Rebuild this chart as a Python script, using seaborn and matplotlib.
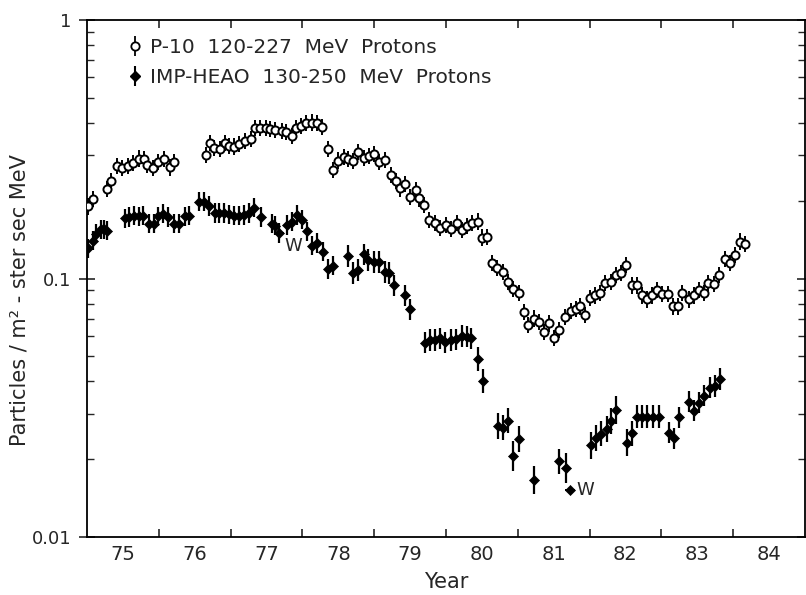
import numpy as np
import pandas as pd
import matplotlib
matplotlib.use("Agg")
import matplotlib.pyplot as plt
import seaborn as sns
from matplotlib.lines import Line2D
from matplotlib.legend_handler import HandlerTuple
from matplotlib.ticker import LogLocator, NullFormatter, FixedLocator, FixedFormatter

# ---------------- data ----------------
p10_year = [1975.01, 1975.09, 1975.28, 1975.34, 1975.42, 1975.49, 1975.57, 1975.64, 1975.72, 1975.79,
            1975.84, 1975.92, 1975.99, 1976.07, 1976.15, 1976.21,
            1976.66, 1976.71, 1976.77, 1976.85, 1976.92, 1976.98, 1977.05, 1977.12, 1977.20, 1977.28,
            1977.34, 1977.41, 1977.49, 1977.55, 1977.62, 1977.71, 1977.77, 1977.85, 1977.91, 1977.98,
            1978.05, 1978.13, 1978.21, 1978.27,
            1978.36, 1978.43, 1978.50, 1978.58, 1978.64, 1978.71, 1978.78, 1978.86, 1978.93, 1979.00,
            1979.07, 1979.15, 1979.23, 1979.30, 1979.36, 1979.43, 1979.50, 1979.58, 1979.63, 1979.70,
            1979.77, 1979.85, 1979.92, 1980.00, 1980.07, 1980.15, 1980.22, 1980.29, 1980.36, 1980.44,
            1980.50, 1980.57, 1980.64, 1980.71, 1980.80, 1980.86, 1980.93, 1981.01, 1981.08, 1981.14,
            1981.22, 1981.30, 1981.37, 1981.44, 1981.51, 1981.58, 1981.66, 1981.74, 1981.81, 1981.87,
            1981.93, 1982.01, 1982.08, 1982.15, 1982.22, 1982.30, 1982.37, 1982.44, 1982.51, 1982.59,
            1982.66, 1982.73, 1982.80, 1982.87, 1982.94, 1983.01, 1983.09, 1983.16, 1983.23, 1983.29,
            1983.38, 1983.46, 1983.52, 1983.59, 1983.65, 1983.73, 1983.80, 1983.88, 1983.95, 1984.02,
            1984.09, 1984.16]
p10_flux = [0.190, 0.203, 0.222, 0.239, 0.273, 0.267, 0.272, 0.279, 0.291, 0.289,
            0.276, 0.267, 0.282, 0.289, 0.269, 0.282,
            0.300, 0.335, 0.319, 0.317, 0.335, 0.326, 0.324, 0.331, 0.341, 0.346,
            0.383, 0.383, 0.383, 0.378, 0.375, 0.372, 0.370, 0.357, 0.383, 0.389,
            0.399, 0.401, 0.399, 0.385,
            0.316, 0.263, 0.286, 0.296, 0.289, 0.285, 0.309, 0.292, 0.298, 0.304,
            0.283, 0.287, 0.251, 0.238, 0.223, 0.232, 0.207, 0.219, 0.204, 0.193,
            0.168, 0.164, 0.157, 0.161, 0.155, 0.164, 0.154, 0.160, 0.164, 0.166,
            0.144, 0.145, 0.115, 0.110, 0.106, 0.097, 0.091, 0.088, 0.074, 0.066,
            0.070, 0.068, 0.062, 0.067, 0.059, 0.063, 0.071, 0.075, 0.076, 0.078,
            0.072, 0.084, 0.086, 0.088, 0.096, 0.097, 0.103, 0.105, 0.113, 0.094,
            0.094, 0.086, 0.083, 0.086, 0.090, 0.087, 0.087, 0.078, 0.078, 0.088,
            0.083, 0.086, 0.090, 0.088, 0.096, 0.095, 0.103, 0.119, 0.115, 0.123,
            0.139, 0.136]
p10_relerr = 0.075

imp_year = [1975.01, 1975.08, 1975.13, 1975.19, 1975.23, 1975.28,
            1975.53, 1975.59, 1975.66, 1975.73, 1975.78, 1975.86, 1975.93, 1975.99, 1976.06, 1976.13,
            1976.21, 1976.28, 1976.36, 1976.42,
            1976.56, 1976.63, 1976.70, 1976.78, 1976.84, 1976.91, 1976.98, 1977.05, 1977.12, 1977.19,
            1977.25, 1977.32,
            1977.43, 1977.57, 1977.62, 1977.68, 1977.78, 1977.85, 1977.92, 1977.99, 1978.06, 1978.13,
            1978.20, 1978.28, 1978.35, 1978.42,
            1978.64, 1978.71, 1978.78, 1978.86, 1978.92, 1979.00, 1979.07, 1979.15, 1979.21, 1979.28,
            1979.43, 1979.50,
            1979.71, 1979.78, 1979.85, 1979.92, 1979.99, 1980.07, 1980.14, 1980.22, 1980.29, 1980.35,
            1980.45, 1980.52,
            1980.73, 1980.80, 1980.86, 1980.93, 1981.01, 1981.22, 1981.58, 1981.67, 1981.73,
            1982.02, 1982.09, 1982.16, 1982.24, 1982.30, 1982.37, 1982.52, 1982.59, 1982.66, 1982.73,
            1982.80, 1982.88, 1982.96,
            1983.10, 1983.17, 1983.24, 1983.38, 1983.46, 1983.52, 1983.59, 1983.67, 1983.74, 1983.81]
imp_flux = [0.131, 0.140, 0.149, 0.155, 0.155, 0.153,
            0.171, 0.173, 0.175, 0.174, 0.175, 0.163, 0.163, 0.174, 0.178, 0.173,
            0.163, 0.163, 0.174, 0.175,
            0.198, 0.198, 0.191, 0.179, 0.179, 0.179, 0.177, 0.175, 0.175, 0.176,
            0.179, 0.188,
            0.173, 0.163, 0.160, 0.150, 0.161, 0.166, 0.176, 0.169, 0.152, 0.134,
            0.137, 0.127, 0.109, 0.112,
            0.122, 0.105, 0.108, 0.124, 0.118, 0.116, 0.116, 0.106, 0.105, 0.094,
            0.086, 0.076,
            0.0564, 0.0578, 0.0578, 0.0587, 0.0566, 0.0578, 0.0582, 0.0599, 0.0595, 0.0587,
            0.0488, 0.0401,
            0.0269, 0.0265, 0.0282, 0.0206, 0.0239, 0.0166, 0.0196, 0.0185, 0.0152,
            0.0226, 0.0242, 0.0251, 0.0262, 0.0281, 0.0310, 0.0232, 0.0252, 0.0292, 0.0292,
            0.0292, 0.0292, 0.0292,
            0.0253, 0.0241, 0.0290, 0.0334, 0.0308, 0.0331, 0.0352, 0.0378, 0.0384, 0.0409]
imp_relerr = [0.09, 0.09, 0.09, 0.09, 0.09, 0.09,
              0.09, 0.09, 0.09, 0.09, 0.09, 0.09, 0.09, 0.09, 0.09, 0.09,
              0.09, 0.09, 0.09, 0.09,
              0.09, 0.09, 0.09, 0.09, 0.09, 0.09, 0.09, 0.09, 0.09, 0.09,
              0.09, 0.09,
              0.09, 0.09, 0.09, 0.09, 0.09, 0.09, 0.09, 0.09, 0.09, 0.09,
              0.09, 0.09, 0.09, 0.09,
              0.10, 0.10, 0.10, 0.10, 0.10, 0.10, 0.10, 0.10, 0.10, 0.10,
              0.10, 0.10,
              0.10, 0.10, 0.10, 0.10, 0.10, 0.10, 0.10, 0.10, 0.10, 0.10,
              0.11, 0.11,
              0.12, 0.12, 0.12, 0.14, 0.12, 0.13, 0.12, 0.14, 0.03,
              0.13, 0.12, 0.12, 0.12, 0.12, 0.13, 0.13, 0.12, 0.11, 0.11,
              0.11, 0.11, 0.11,
              0.10, 0.10, 0.10, 0.10, 0.10, 0.10, 0.10, 0.10, 0.10, 0.10]

# points marked "W" (with a horizontal bar)
w_year = [1977.68, 1981.73]
w_flux = [0.150, 0.0152]
w_xerr = 0.07

year_ticks = [1976, 1977, 1978, 1979, 1980, 1981, 1982, 1983, 1984]
year_labels = ["75", "76", "77", "78", "79", "80", "81", "82", "83", "84"]
year_label_pos = [1975.5, 1976.5, 1977.5, 1978.5, 1979.5, 1980.5, 1981.5, 1982.5, 1983.5, 1984.5]
y_ticks = [0.01, 0.1, 1]
y_labels = ["0.01", "0.1", "1"]

p10 = pd.DataFrame({"year": p10_year, "flux": p10_flux})
imp = pd.DataFrame({"year": imp_year, "flux": imp_flux, "relerr": imp_relerr})

# ---------------- plot ----------------
sns.set_style("ticks")
plt.rcParams["font.family"] = ["DejaVu Sans"]

fig = plt.figure(figsize=(8.06, 5.95), dpi=100)
W, H = 806, 595
L, R, T, B = 87, 805, 20, 537
ax = fig.add_axes([L / W, 1 - B / H, (R - L) / W, (B - T) / H])

# error bars
pf = p10["flux"].to_numpy()
ax.errorbar(p10["year"], pf, yerr=[pf - pf / (1 + p10_relerr), pf * p10_relerr],
            fmt="none", ecolor="black", elinewidth=1.4, capsize=0, zorder=2)
jf = imp["flux"].to_numpy()
jr = imp["relerr"].to_numpy()
ax.errorbar(imp["year"], jf, yerr=[jf - jf / (1 + jr), jf * jr],
            fmt="none", ecolor="black", elinewidth=1.6, capsize=0, zorder=2)
ax.errorbar(w_year, w_flux, xerr=w_xerr, fmt="none", ecolor="black",
            elinewidth=1.4, capsize=0, zorder=2)

sns.scatterplot(data=p10, x="year", y="flux", marker="o", s=34, color="white",
                edgecolor="black", linewidth=1.4, ax=ax, zorder=3, legend=False)
sns.scatterplot(data=imp, x="year", y="flux", marker="D", s=26, color="black",
                edgecolor="black", linewidth=0.5, ax=ax, zorder=3, legend=False)

ax.text(1977.87, 0.134, "W", fontsize=13, ha="center", va="center")
ax.text(1981.82, 0.0152, "W", fontsize=13, ha="left", va="center")

ax.set_yscale("log")
ax.set_xlim(1975, 1985)
ax.set_ylim(0.01, 1)

# y ticks
ax.yaxis.set_major_locator(FixedLocator(y_ticks))
ax.yaxis.set_major_formatter(FixedFormatter(y_labels))
ax.yaxis.set_minor_locator(LogLocator(base=10, subs=np.arange(2, 10)))
ax.yaxis.set_minor_formatter(NullFormatter())
ax.tick_params(axis="y", which="major", direction="inout", length=12, width=1.2,
               labelsize=13, right=True, pad=5)
ax.tick_params(axis="y", which="minor", direction="in", length=5, width=1.0, right=True)

# x ticks: ticks at year boundaries, labels centred in the year
ax.xaxis.set_major_locator(FixedLocator(year_ticks))
ax.xaxis.set_major_formatter(NullFormatter())
ax.xaxis.set_minor_locator(FixedLocator(year_label_pos))
ax.xaxis.set_minor_formatter(FixedFormatter(year_labels))
ax.tick_params(axis="x", which="major", direction="in", length=6, width=1.2, top=True)
ax.tick_params(axis="x", which="minor", length=0, labelsize=14, pad=6)

for s in ax.spines.values():
    s.set_linewidth(1.3)
    s.set_color("black")

ax.set_xlabel("Year", fontsize=15, va="center")
ax.xaxis.set_label_coords(0.5, -(582 - B) / (B - T))
ax.set_ylabel("Particles / m\u00b2 - ster sec MeV", fontsize=15)
ax.yaxis.set_label_coords(-(L - 30) / (R - L), (B - 300) / (B - T))

# legend
h_open = (Line2D([], [], marker="|", markersize=14, markeredgewidth=1.3, color="black", linestyle="none"),
          Line2D([], [], marker="o", markersize=6, markerfacecolor="white", markeredgecolor="black",
                 markeredgewidth=1.3, linestyle="none"))
h_fill = (Line2D([], [], marker="|", markersize=14, markeredgewidth=1.5, color="black", linestyle="none"),
          Line2D([], [], marker="D", markersize=5, color="black", linestyle="none"))
ax.legend([h_open, h_fill],
          ["P-10  120-227  MeV  Protons", "IMP-HEAO  130-250  MeV  Protons"],
          handler_map={tuple: HandlerTuple(ndivide=1)},
          loc="upper left", bbox_to_anchor=((125 - L) / (R - L), (B - 38) / (B - T)),
          frameon=False, fontsize=14.5, handlelength=1.0, handletextpad=0.25,
          labelspacing=0.55, borderpad=0, borderaxespad=0)

fig.savefig("out.png", dpi=100)
